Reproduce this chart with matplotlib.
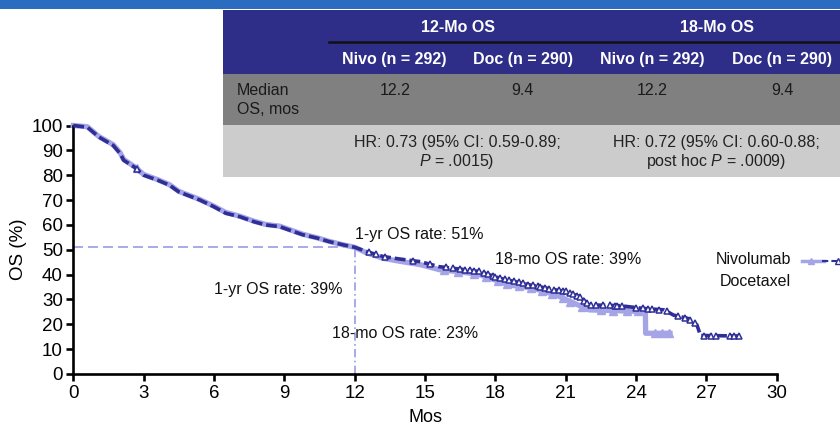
import numpy as np
import matplotlib.pyplot as plt
from matplotlib.patches import Rectangle

plt.rcParams['font.family'] = ['Liberation Sans', 'DejaVu Sans']
plt.rcParams['mathtext.fontset'] = 'custom'
plt.rcParams['mathtext.rm'] = 'Liberation Sans'
plt.rcParams['mathtext.it'] = 'Liberation Sans:italic'

NAVY = '#2e2e96'
LIGHT = '#a4a4e6'
REF = '#9b9be8'

# Kaplan-Meier curves (months, % surviving)
nivo_t = [0, 0.6, 1.1, 1.7, 2.0, 2.15, 2.6, 3.0, 3.6, 4.1, 4.5, 5.4, 6.0, 6.5, 7.1,
          7.7, 8.2, 8.8, 9.4, 9.8, 10.4, 10.9, 11.5, 12.0, 12.5, 13.2, 13.9, 14.8,
          15.6, 16.6, 17.35, 18.2, 19.5, 20.6, 21.0, 21.6, 22.0, 23.3, 24.3, 25.2,
          25.6, 26.2, 26.6, 26.75, 28.4]
nivo_s = [100, 99.3, 95.3, 92, 88.7, 86, 83.3, 80, 78, 76, 73.3, 70, 67.3, 64.7, 63.3,
          61.3, 60, 59.3, 57.3, 56, 54.7, 53.3, 52, 51, 49.3, 47.3, 46.3, 45.2,
          43.2, 42.1, 41.2, 38.5, 35.8, 33.8, 33.2, 31.1, 27.8, 27.5, 26.4, 25.8,
          23.7, 22.4, 19.7, 15.5, 15.3]
doc_t = [0, 0.6, 1.1, 1.7, 2.0, 2.15, 2.6, 3.0, 3.6, 4.1, 4.5, 5.4, 6.0, 6.5, 7.1,
         7.7, 8.2, 8.8, 9.4, 9.8, 10.4, 10.9, 11.5, 12.0, 12.5, 13.2, 13.9, 14.8,
         15.6, 16.6, 17.35, 18.6, 19.6, 20.6, 21.05, 22.0, 24.4, 24.41, 25.45]
doc_s = [100, 99.5, 95.5, 92.3, 89, 86.3, 83.5, 80.3, 78.2, 76.2, 73.5, 70.2, 67.5, 65, 63.5,
         61.5, 60.2, 59.5, 57.5, 56.2, 54.8, 53.4, 52, 51, 48.8, 46.6, 45.4, 44.0,
         42.0, 41.0, 39.9, 35.8, 34.5, 31.8, 29.8, 25.8, 25.1, 16.4, 16.4]

# censored observations (months)
nivo_censor = [2.7, 12.6, 12.9, 13.3, 14.5, 15.2, 15.9, 16.2, 16.5, 16.7, 16.9, 17.1,
               17.3, 17.5, 17.7, 17.9, 18.0, 18.2, 18.4, 18.6, 18.8, 19.0, 19.2, 19.4,
               19.6, 19.8, 19.9, 20.1, 20.3, 20.5, 20.7, 20.9, 21.0, 21.2, 21.3, 21.5,
               21.6, 21.8, 21.9, 22.1, 22.3, 22.6, 22.9, 23.1, 23.2, 23.4, 24.0, 24.3,
               24.5, 24.7, 25.0, 25.3, 25.8, 26.1, 26.3, 26.5, 26.9, 27.2, 27.4, 28.0,
               28.2, 28.4]
doc_censor = [2.7, 15.8, 16.4, 17.1, 17.6, 18.1, 18.5, 19.0, 19.5, 20.0, 20.4, 20.9,
              21.2, 21.7, 22.5, 23.0, 23.6, 24.1, 24.8, 25.1, 25.4]

landmark_mo = 12
landmark_os = 51

annotations = [(12.02, 56.3, '1-yr OS rate: 51%'),
               (17.99, 45.9, '18-mo OS rate: 39%'),
               (5.98, 34.2, '1-yr OS rate: 39%'),
               (11.02, 16.1, '18-mo OS rate: 23%')]

# table contents
groups = ['12-Mo OS', '18-Mo OS']
arms = ['Nivo (n = 292)', 'Doc (n = 290)', 'Nivo (n = 292)', 'Doc (n = 290)']
median_os = ['12.2', '9.4', '12.2', '9.4']
hr_text = [('HR: 0.73 (95% CI: 0.59-0.89;', r'$\mathit{P}$ = .0015)'),
           ('HR: 0.72 (95% CI: 0.60-0.88;', r'post hoc $\mathit{P}$ = .0009)')]
legend_labels = ['Nivolumab', 'Docetaxel']

fig = plt.figure(figsize=(8.4, 4.29), dpi=100)
ax = fig.add_axes([73.3 / 840, 55 / 429, 703.4 / 840, 248.5 / 429])

# landmark guide lines
ax.plot([0, landmark_mo], [landmark_os, landmark_os], color=REF, lw=1.2,
        dashes=(6, 3), zorder=1)
ax.plot([landmark_mo, landmark_mo], [0, landmark_os], color=REF, lw=1.2,
        dashes=(5, 2, 1, 2), zorder=1)

ax.plot(doc_t, doc_s, color=LIGHT, lw=3.8, clip_on=False, zorder=2)
ax.plot(doc_censor, np.interp(doc_censor, doc_t, doc_s), ls='none', marker='^', ms=5.5,
        color=LIGHT, clip_on=False, zorder=2)
ax.plot(nivo_t, nivo_s, color=NAVY, lw=2.6, dashes=(3, 1.1), clip_on=False, zorder=3)
ax.plot(nivo_censor, np.interp(nivo_censor, nivo_t, nivo_s), ls='none', marker='^',
        ms=5, mfc='white', mec=NAVY, mew=1.1, clip_on=False, zorder=4)

for x, y, s in annotations:
    ax.text(x, y, s, fontsize=11.5, ha='left', va='center', color='#111111')

ax.set_xlim(0, 30)
ax.set_ylim(0, 100)
ax.set_xticks(range(0, 31, 3))
ax.set_yticks(range(0, 101, 10))
for side in ['top', 'right']:
    ax.spines[side].set_visible(False)
for side in ['left', 'bottom']:
    ax.spines[side].set_linewidth(1.9)
ax.tick_params(width=1.9, length=5, labelsize=13.5, colors='black')
ax.tick_params(axis='y', pad=2.5)
ax.tick_params(axis='x', pad=3)
ax.set_xlabel('Mos', fontsize=13, labelpad=5)
ax.set_ylabel('OS (%)', fontsize=13.5, labelpad=3)

# overlay in pixel coordinates for banner, table and legend
ov = fig.add_axes([0, 0, 1, 1], zorder=5)
ov.set_xlim(0, 840)
ov.set_ylim(429, 0)
ov.axis('off')
ov.patch.set_alpha(0)

ov.add_patch(Rectangle((0, 0), 840, 9, color='#2a6dc0', lw=0))
ov.add_patch(Rectangle((222.7, 10), 640, 64, color='#2e2e88', lw=0))
ov.add_patch(Rectangle((222.7, 74), 640, 51, color='#808080', lw=0))
ov.add_patch(Rectangle((222.7, 125), 640, 51.7, color='#cccccc', lw=0))
ov.plot([329, 840], [41.7, 41.7], color='#111111', lw=1.8)

group_x = [458, 717]
col_x = [394.7, 522.8, 652, 782.5]
for gx, g in zip(group_x, groups):
    ov.text(gx, 27, g, color='white', fontsize=11.5, fontweight='bold', ha='center', va='center')
for cx, a in zip(col_x, arms):
    ov.text(cx, 59.3, a, color='white', fontsize=11.5, fontweight='bold', ha='center', va='center')
ov.text(236.7, 90.7, 'Median', fontsize=11.5, ha='left', va='center', color='#1a1a1a')
ov.text(236.7, 109, 'OS, mos', fontsize=11.5, ha='left', va='center', color='#1a1a1a')
for cx, m in zip(col_x, median_os):
    ov.text(cx, 90.7, m, fontsize=11.5, ha='center', va='center', color='#1a1a1a')
for gx, (l1, l2) in zip([457, 716], hr_text):
    ov.text(gx, 142.7, l1, fontsize=11.5, ha='center', va='center', color='#222222')
    ov.text(gx, 161.7, l2, fontsize=11.5, ha='center', va='center', color='#222222')

# legend (cut off at the right edge in the source)
for y, lab in zip([260, 281], legend_labels):
    ov.text(790.7, y, lab, fontsize=11.5, ha='right', va='center', color='#111111')
ov.plot([802, 824], [260.7, 260.7], color=LIGHT, lw=2.5)
ov.plot([811], [260.7], marker='^', ms=5, color=LIGHT)
ov.plot([822, 846], [260.7, 260.7], color=NAVY, lw=1.5, dashes=(3, 1.5))
ov.plot([838], [260.7], marker='^', ms=5, mfc='white', mec=NAVY, mew=1.0)

fig.savefig('out.png', dpi=100)
